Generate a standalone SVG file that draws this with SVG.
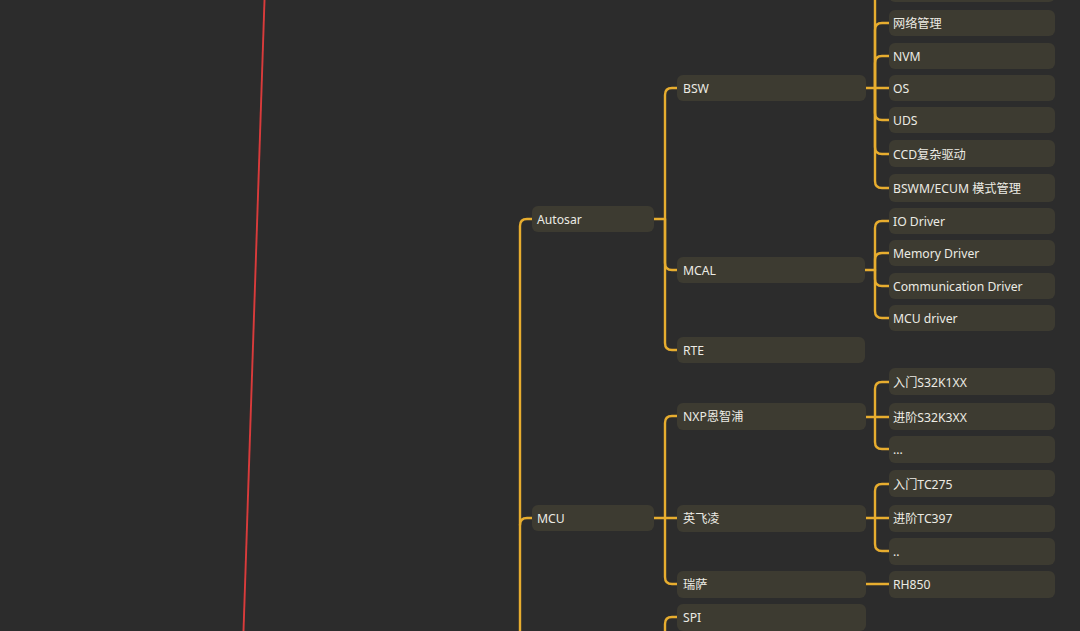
<svg xmlns="http://www.w3.org/2000/svg" width="1080" height="631" viewBox="0 0 1080 631">
<style>
.bg{fill:#2c2c2c}
.box{fill:#3d3b31}
.t{fill:#ecebe4;font-family:"Noto Sans","Noto Sans CJK SC",sans-serif;font-size:12.2px}
.c path{fill:none;stroke:#e7ad2f;stroke-width:2.4;stroke-linecap:round;stroke-linejoin:round}
</style>
<rect class="bg" x="0" y="0" width="1080" height="631"/>
<line x1="264.5" y1="0" x2="243.5" y2="631" stroke="#d93b3b" stroke-width="1.9"/>
<g id="connectors" class="c">
<path d="M520,640 V226 Q520,219 527,219 H532"/>
<path d="M520,525 Q520,518 527,518 H532"/>
<path d="M654,219 H665 V95 Q665,88 672,88 H677"/>
<path d="M665,219 V263 Q665,270 672,270 H678"/>
<path d="M665,219 V343 Q665,350 672,350 H677"/>
<path d="M654,518 H677"/>
<path d="M665,518 V423 Q665,416 672,416 H677"/>
<path d="M665,518 V577 Q665,584 672,584 H677"/>
<path d="M665,640 V624 Q665,617 672,617 H677"/>
<path d="M866,88 H889"/>
<path d="M875,88 V-4 Q875,-11 882,-11 H889"/>
<path d="M875,88 V30 Q875,23 882,23 H889"/>
<path d="M875,88 V63 Q875,56 882,56 H889"/>
<path d="M875,88 V113 Q875,120 882,120 H889"/>
<path d="M875,88 V147 Q875,154 882,154 H889"/>
<path d="M875,88 V181 Q875,188 882,188 H889"/>
<path d="M864,270 H875 V228 Q875,221 882,221 H889"/>
<path d="M875,270 V260 Q875,253 882,253 H889"/>
<path d="M875,270 V279 Q875,286 882,286 H889"/>
<path d="M875,270 V311 Q875,318 882,318 H889"/>
<path d="M866,417 H889"/>
<path d="M875,417 V389 Q875,382 882,382 H889"/>
<path d="M875,417 V442 Q875,449 882,449 H889"/>
<path d="M866,518 H889"/>
<path d="M875,518 V491 Q875,484 882,484 H889"/>
<path d="M875,518 V544 Q875,551 882,551 H889"/>
<path d="M866,584 H889"/>
</g>
<g id="n-autosar"><rect class="box" x="532" y="206" width="122" height="26" rx="6"/><text class="t" x="537" y="223.5">Autosar</text></g>
<g id="n-mcu"><rect class="box" x="532" y="505" width="122" height="26" rx="6"/><text class="t" x="537" y="522.5">MCU</text></g>
<g id="n-bsw"><rect class="box" x="677" y="75" width="189" height="26" rx="6"/><text class="t" x="683" y="92.5">BSW</text></g>
<g id="n-mcal"><rect class="box" x="677" y="257" width="188" height="26" rx="6"/><text class="t" x="683" y="274.5">MCAL</text></g>
<g id="n-rte"><rect class="box" x="677" y="337" width="188" height="26" rx="6"/><text class="t" x="683" y="354.5">RTE</text></g>
<g id="n-nxp"><rect class="box" x="677" y="403" width="189" height="27" rx="6"/><text class="t" x="683" y="421">NXP恩智浦</text></g>
<g id="n-infineon"><rect class="box" x="677" y="505" width="189" height="27" rx="6"/><text class="t" x="683" y="523">英飞凌</text></g>
<g id="n-renesas"><rect class="box" x="677" y="571" width="189" height="27" rx="6"/><text class="t" x="683" y="589">瑞萨</text></g>
<g id="n-spi"><rect class="box" x="677" y="604" width="189" height="27" rx="6"/><text class="t" x="683" y="621.5">SPI</text></g>
<g id="n-bsw-top"><rect class="box" x="889" y="-24" width="166" height="26" rx="6"/></g>
<g id="n-net"><rect class="box" x="889" y="10" width="166" height="26" rx="6"/><text class="t" x="893" y="27.5">网络管理</text></g>
<g id="n-nvm"><rect class="box" x="889" y="43" width="166" height="26" rx="6"/><text class="t" x="893" y="60.5">NVM</text></g>
<g id="n-os"><rect class="box" x="889" y="75" width="166" height="26" rx="6"/><text class="t" x="893" y="92.5">OS</text></g>
<g id="n-uds"><rect class="box" x="889" y="107" width="166" height="26" rx="6"/><text class="t" x="893" y="124.5">UDS</text></g>
<g id="n-ccd"><rect class="box" x="889" y="140" width="166" height="27" rx="6"/><text class="t" x="893" y="158.5">CCD复杂驱动</text></g>
<g id="n-bswm"><rect class="box" x="889" y="174" width="166" height="28" rx="6"/><text class="t" x="893" y="192.5">BSWM/ECUM 模式管理</text></g>
<g id="n-io"><rect class="box" x="889" y="208" width="166" height="26" rx="6"/><text class="t" x="893" y="225.5">IO Driver</text></g>
<g id="n-mem"><rect class="box" x="889" y="240" width="166" height="26" rx="6"/><text class="t" x="893" y="257.5">Memory Driver</text></g>
<g id="n-comm"><rect class="box" x="889" y="273" width="166" height="26" rx="6"/><text class="t" x="893" y="290.5">Communication Driver</text></g>
<g id="n-mcudrv"><rect class="box" x="889" y="305" width="166" height="26" rx="6"/><text class="t" x="893" y="322.5">MCU driver</text></g>
<g id="n-s32k1"><rect class="box" x="889" y="368" width="166" height="27" rx="6"/><text class="t" x="893" y="386.5">入门S32K1XX</text></g>
<g id="n-s32k3"><rect class="box" x="889" y="403" width="166" height="27" rx="6"/><text class="t" x="893" y="421.5">进阶S32K3XX</text></g>
<g id="n-nxp-more"><rect class="box" x="889" y="436" width="166" height="27" rx="6"/><text class="t" x="893" y="453.5">...</text></g>
<g id="n-tc275"><rect class="box" x="889" y="470" width="166" height="27" rx="6"/><text class="t" x="893" y="488.5">入门TC275</text></g>
<g id="n-tc397"><rect class="box" x="889" y="505" width="166" height="27" rx="6"/><text class="t" x="893" y="522.5">进阶TC397</text></g>
<g id="n-inf-more"><rect class="box" x="889" y="538" width="166" height="27" rx="6"/><text class="t" x="893" y="555.5">..</text></g>
<g id="n-rh850"><rect class="box" x="889" y="571" width="166" height="27" rx="6"/><text class="t" x="893" y="588.5">RH850</text></g>
</svg>
